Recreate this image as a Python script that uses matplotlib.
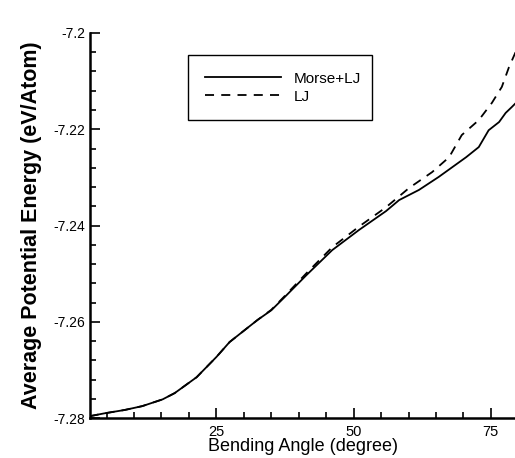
import matplotlib.pyplot as plt
from matplotlib.ticker import FixedLocator, MultipleLocator

# values
angle_morse = [1.9, 4.6, 8.3, 11.5, 15.2, 17.4, 21.4, 25.0, 27.4, 29.5, 32.5, 35.0,
               37.4, 41.4, 46.1, 51.0, 55.9, 58.3, 61.9, 65.5, 70.5, 72.8, 74.6,
               76.5, 77.7, 78.8, 79.5]
energy_morse = [-7.2796, -7.2790, -7.2783, -7.2775, -7.2761, -7.2748, -7.2715, -7.2673,
                -7.2642, -7.2623, -7.2596, -7.2576, -7.2549, -7.2503, -7.2451, -7.2409,
                -7.2370, -7.2347, -7.2326, -7.2299, -7.2258, -7.2237, -7.2202, -7.2185,
                -7.2166, -7.2154, -7.2146]

angle_lj = [1.9, 4.6, 8.3, 11.5, 15.2, 17.4, 21.4, 25.0, 27.4, 29.5, 32.5, 35.0,
            37.4, 41.4, 46.1, 51.0, 55.9, 60.1, 64.3, 67.4, 69.7, 72.8, 75.2, 77.0,
            78.3, 79.5]
energy_lj = [-7.2796, -7.2790, -7.2783, -7.2775, -7.2761, -7.2748, -7.2715, -7.2673,
             -7.2642, -7.2623, -7.2596, -7.2575, -7.2547, -7.2499, -7.2445, -7.2402,
             -7.2362, -7.2322, -7.2289, -7.2258, -7.2212, -7.2181, -7.2145, -7.2112,
             -7.2071, -7.2040]

x_ticks = [25, 50, 75]
y_ticks = [-7.28, -7.26, -7.24, -7.22, -7.2]
y_tick_labels = ["-7.28", "-7.26", "-7.24", "-7.22", "-7.2"]

plt.rcParams["font.family"] = ["Liberation Sans", "DejaVu Sans"]
plt.rcParams["axes.unicode_minus"] = False

fig = plt.figure(figsize=(5.15, 4.58), dpi=100)
ax = fig.add_axes([0.175, 0.087, 0.825, 0.841])

ax.plot(angle_morse, energy_morse, color="black", lw=1.3, label="Morse+LJ")
ax.plot(angle_lj, energy_lj, color="black", lw=1.3, ls=(0, (5, 4)), label="LJ")

ax.set_xlim(2, 79.4)
ax.set_ylim(-7.28, -7.2)

ax.xaxis.set_major_locator(FixedLocator(x_ticks))
ax.xaxis.set_minor_locator(MultipleLocator(5))
ax.set_yticks(y_ticks, y_tick_labels)
ax.yaxis.set_minor_locator(MultipleLocator(0.004))
ax.tick_params(which="both", direction="in", width=1.2, labelsize=10)
ax.tick_params(which="major", length=7)
ax.tick_params(which="minor", length=4)
ax.tick_params(axis="x", labelsize=10.5, pad=5)

for side in ["top", "right"]:
    ax.spines[side].set_visible(False)
for side in ["left", "bottom"]:
    ax.spines[side].set_linewidth(1.8)

ax.set_xlabel("Bending Angle (degree)", fontsize=13, labelpad=-1)
ax.set_ylabel("Average Potential Energy (eV/Atom)", fontsize=15.5,
              fontweight="bold", labelpad=8)

leg = ax.legend(loc="upper left", bbox_to_anchor=(0.365, 0.78, 0.357, 0.1),
                bbox_transform=fig.transFigure, mode="expand", borderaxespad=0,
                fancybox=False, edgecolor="black", framealpha=1, fontsize=11,
                handlelength=5.0, borderpad=1.1, labelspacing=0.25)
leg.get_frame().set_linewidth(1.0)

fig.savefig("out.png", dpi=100)
